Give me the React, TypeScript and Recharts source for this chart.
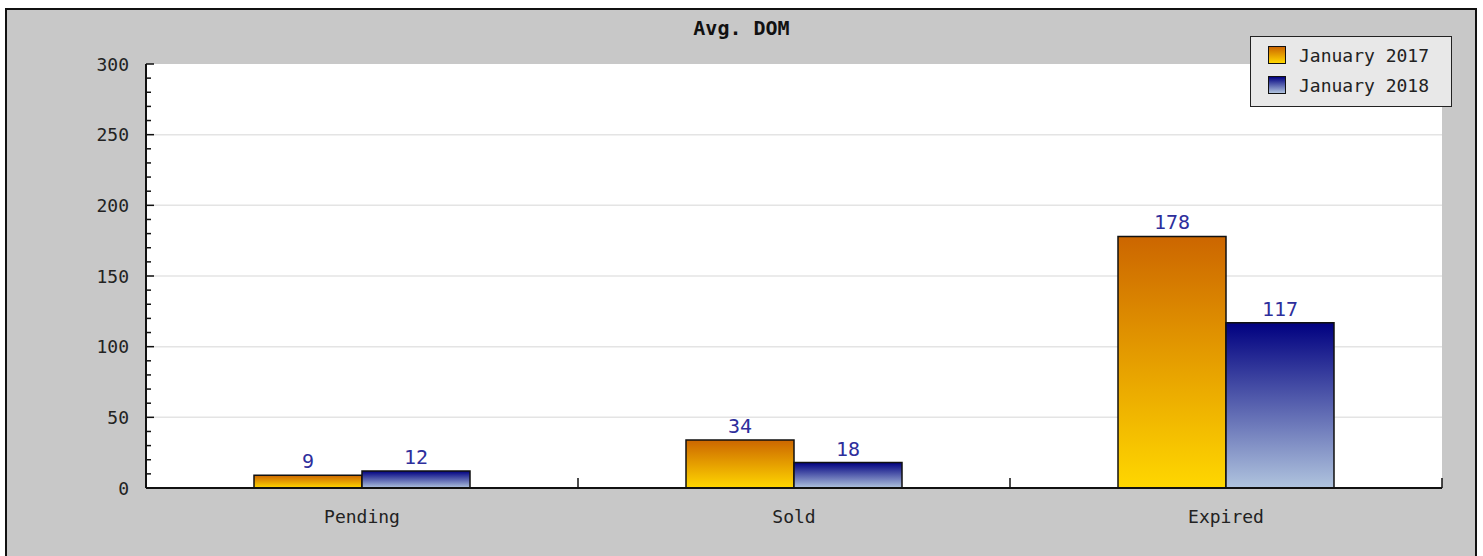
import React from 'react';
import { BarChart, Bar, XAxis, YAxis, CartesianGrid, Legend, LabelList } from 'recharts';

const categories = ['Pending', 'Sold', 'Expired'];
const jan2017 = [9, 34, 178];
const jan2018 = [12, 18, 117];
const seriesNames = ['January 2017', 'January 2018'];
const yTicks = [0, 10, 20, 30, 40, 50, 60, 70, 80, 90, 100, 110, 120, 130, 140, 150, 160, 170, 180, 190, 200, 210, 220, 230, 240, 250, 260, 270, 280, 290, 300];
const yLabelTicks = [0, 50, 100, 150, 200, 250, 300];
const gridValues = [50, 100, 150, 200, 250];
const title = 'Avg. DOM';

const data = categories.map((c, i) => ({ name: c, a: jan2017[i], b: jan2018[i] }));

const FONT = '"DejaVu Sans Mono", monospace';
const gradients = [
  { id: 'gOrange', top: '#cc6600', bottom: '#ffd700' },
  { id: 'gBlue', top: '#000080', bottom: '#b0c4de' },
];

const XTick = (props: any) => {
  const { x, y, payload } = props;
  const off = payload && typeof payload.offset === 'number' ? payload.offset : 216;
  return (
    <g>
      <line x1={x + off} y1={y} x2={x + off} y2={y - 10} stroke="#111" strokeWidth={1.5} />
      <text x={x} y={y + 35} textAnchor="middle" fontFamily={FONT} fontSize={18} fill="#222">
        {payload.value}
      </text>
    </g>
  );
};

const YTick = (props: any) => {
  const { x, y, payload } = props;
  const major = yLabelTicks.includes(payload.value);
  return (
    <g>
      <line x1={x} y1={y} x2={x + (major ? 8 : 5)} y2={y} stroke="#111" strokeWidth={1.5} />
      {major && (
        <text x={x - 17} y={y + 6.5} textAnchor="end" fontFamily={FONT} fontSize={18} fill="#222">
          {payload.value}
        </text>
      )}
    </g>
  );
};

const renderLegend = (props: any) => {
  const payload = props.payload || [];
  return (
    <div
      style={{
        width: 202,
        height: 71,
        boxSizing: 'border-box',
        background: '#e8e8e8',
        border: '1.5px solid #222',
        paddingTop: 3,
        paddingLeft: 17,
      }}
    >
      {payload.map((p: any, i: number) => (
        <div key={i} style={{ display: 'flex', alignItems: 'center', height: 30 }}>
          <div
            style={{
              width: 18,
              height: 18,
              boxSizing: 'border-box',
              border: '1.5px solid #111',
              background: `linear-gradient(${gradients[i].top}, ${gradients[i].bottom})`,
              marginRight: 13,
            }}
          />
          <span style={{ fontFamily: FONT, fontSize: 18, color: '#222' }}>{p.value}</span>
        </div>
      ))}
    </div>
  );
};

export default function App() {
  return (
    <div style={{ position: 'absolute', left: 0, top: 0, width: 1483, height: 556, overflow: 'hidden', background: '#fff' }}>
      <div
        style={{
          position: 'absolute',
          left: 5,
          top: 8,
          width: 1472,
          height: 560,
          boxSizing: 'border-box',
          background: '#c8c8c8',
          border: '2px solid #111',
        }}
      />
      <div
        style={{
          position: 'absolute',
          left: 0,
          width: 1483,
          top: 16,
          textAlign: 'center',
          fontFamily: FONT,
          fontWeight: 'bold',
          fontSize: 20,
          color: '#111',
        }}
      >
        {title}
      </div>
      <div style={{ position: 'absolute', left: 0, top: 0 }}>
        <BarChart
          width={1483}
          height={556}
          data={data}
          margin={{ top: 64, right: 41, bottom: 28, left: 0 }}
          barCategoryGap="25%"
          barGap={0}
        >
          <defs>
            {gradients.map((g) => (
              <linearGradient key={g.id} id={g.id} x1="0" y1="0" x2="0" y2="1">
                <stop offset="0%" stopColor={g.top} />
                <stop offset="100%" stopColor={g.bottom} />
              </linearGradient>
            ))}
          </defs>
          <CartesianGrid
            fill="#ffffff"
            vertical={false}
            horizontalValues={gridValues}
            stroke="#e4e4e4"
            strokeWidth={1.5}
          />
          <XAxis
            dataKey="name"
            height={40}
            tickLine={false}
            tickSize={0}
            tickMargin={0}
            axisLine={{ stroke: '#111', strokeWidth: 2 }}
            tick={<XTick />}
            interval={0}
          />
          <YAxis
            width={146}
            domain={[0, 300]}
            ticks={yTicks}
            interval={0}
            tickLine={false}
            tickSize={0}
            tickMargin={0}
            axisLine={{ stroke: '#111', strokeWidth: 2 }}
            tick={<YTick />}
          />
          <Legend
            layout="horizontal"
            verticalAlign="middle"
            align="center"
            content={renderLegend}
            wrapperStyle={{ left: 1250, top: 36, width: 202, height: 71 }}
          />
          <Bar dataKey="a" name={seriesNames[0]} fill="url(#gOrange)" stroke="#111" strokeWidth={1.5} isAnimationActive={false}>
            <LabelList dataKey="a" position="top" offset={7} fill="#2e2e9c" fontFamily={FONT} fontSize={20} />
          </Bar>
          <Bar dataKey="b" name={seriesNames[1]} fill="url(#gBlue)" stroke="#111" strokeWidth={1.5} isAnimationActive={false}>
            <LabelList dataKey="b" position="top" offset={7} fill="#2e2e9c" fontFamily={FONT} fontSize={20} />
          </Bar>
        </BarChart>
      </div>
    </div>
  );
}
